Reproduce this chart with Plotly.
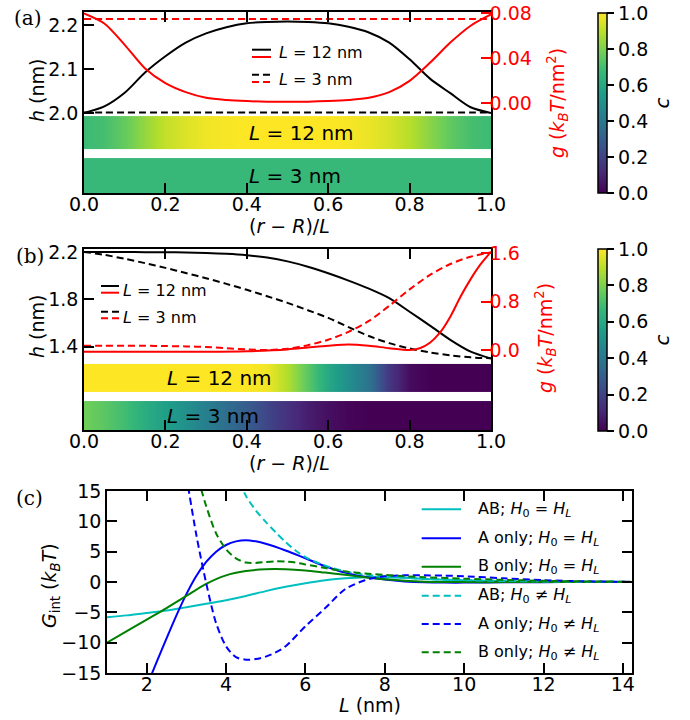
import plotly.graph_objects as go

W, H = 690, 720
def PX(px): return px / W
def PY(py): return 1 - py / H

# ---------------- data: panel (a) ----------------
r = [0.0, 0.05, 0.1, 0.15, 0.2, 0.25, 0.3, 0.35, 0.4, 0.45, 0.5,
     0.55, 0.6, 0.65, 0.7, 0.75, 0.8, 0.85, 0.9, 0.95, 1.0]
a_h_L12 = [2.000, 2.015, 2.046, 2.092, 2.129, 2.160, 2.181, 2.195, 2.204, 2.207, 2.208,
           2.207, 2.204, 2.196, 2.183, 2.160, 2.122, 2.078, 2.045, 2.013, 2.000]
a_h_L3 = [2.001] * 21
a_g_L12 = [0.080, 0.071, 0.052, 0.031, 0.018, 0.010, 0.005, 0.003, 0.002, 0.0015, 0.0015,
           0.0015, 0.002, 0.003, 0.005, 0.010, 0.020, 0.036, 0.054, 0.069, 0.079]
a_g_L3 = [0.075] * 21
a_c_L12 = [0.68, 0.70, 0.76, 0.84, 0.91, 0.95, 0.98, 0.99, 1.0, 1.0, 1.0,
           1.0, 1.0, 0.99, 0.97, 0.94, 0.89, 0.82, 0.75, 0.70, 0.68]
a_c_L3 = [0.67] * 21

# ---------------- data: panel (b) ----------------
b_h_L12 = [2.200, 2.200, 2.199, 2.198, 2.197, 2.195, 2.191, 2.184, 2.172, 2.152, 2.120,
           2.075, 2.020, 1.958, 1.890, 1.810, 1.695, 1.578, 1.458, 1.358, 1.300]
b_h_L3 = [2.200, 2.175, 2.142, 2.105, 2.065, 2.022, 1.978, 1.930, 1.880, 1.826, 1.770,
          1.708, 1.643, 1.565, 1.490, 1.430, 1.385, 1.352, 1.327, 1.310, 1.302]
b_g_L3 = [0.07, 0.07, 0.07, 0.07, 0.065, 0.06, 0.05, 0.03, 0.01, 0.0, 0.02,
          0.08, 0.17, 0.30, 0.48, 0.73, 1.00, 1.24, 1.42, 1.54, 1.61]
r_fine = [0.0, 0.1, 0.2, 0.3, 0.4, 0.5, 0.55, 0.6, 0.65, 0.7, 0.75, 0.8,
          0.825, 0.85, 0.875, 0.9, 0.925, 0.95, 0.975, 1.0]
b_g_L12 = [-0.03, -0.03, -0.03, -0.03, -0.02, 0.01, 0.04, 0.07, 0.09, 0.07, 0.03, 0.0,
           0.03, 0.12, 0.29, 0.55, 0.88, 1.17, 1.42, 1.62]
b_c_L12 = [1.0, 1.0, 1.0, 1.0, 1.0, 1.0, 1.0, 1.0, 1.0, 0.98, 0.88,
           0.74, 0.60, 0.49, 0.38, 0.16, 0.03, 0.0, 0.0, 0.0, 0.0]
b_c_L3 = [0.78, 0.74, 0.69, 0.62, 0.56, 0.50, 0.43, 0.36, 0.29, 0.21, 0.14,
          0.08, 0.04, 0.01, 0.0, 0.0, 0.0, 0.0, 0.0, 0.0, 0.0]

# ---------------- data: panel (c) ----------------
L_ab_eq = [1.0, 1.5, 2.0, 2.5, 3.0, 3.5, 4.0, 4.5, 5.0, 5.5, 6.0, 6.5, 7.0, 7.5, 8.0,
           8.5, 9.0, 10, 11, 12, 13, 14.2]
G_ab_eq = [-5.8, -5.5, -5.1, -4.7, -4.15, -3.6, -3.0, -2.3, -1.5, -0.8, -0.2, 0.3, 0.6,
           0.8, 0.8, 0.7, 0.5, 0.3, 0.15, 0.07, 0.03, 0.01]
L_a_eq = [2.0, 2.25, 2.5, 2.75, 3.0, 3.25, 3.5, 3.75, 4.0, 4.25, 4.5, 4.75, 5.0, 5.5, 6.0,
          6.5, 7.0, 7.5, 8.0, 8.5, 9.0, 9.5, 10, 11, 12, 13, 14.2]
G_a_eq = [-17.2, -13.2, -9.3, -5.5, -2.0, 1.0, 3.3, 5.0, 6.1, 6.7, 6.9, 6.7, 6.3, 5.2, 3.9,
          2.6, 1.55, 0.85, 0.4, 0.1, -0.05, -0.1, -0.1, -0.06, -0.03, -0.01, 0.0]
L_b_eq = [1.0, 1.5, 2.0, 2.5, 3.0, 3.5, 4.0, 4.5, 5.0, 5.5, 6.0, 6.5, 7.0, 7.5, 8.0, 8.5,
          9.0, 9.5, 10, 11, 12, 13, 14.2]
G_b_eq = [-10.0, -8.1, -6.2, -4.3, -2.3, -0.3, 1.1, 1.8, 2.1, 2.1, 1.9, 1.55, 1.2, 0.8,
          0.45, 0.2, 0.05, 0.0, -0.02, -0.02, -0.01, 0.0, 0.0]
L_ab_ne = [4.35, 4.5, 4.75, 5.0, 5.25, 5.5, 5.75, 6.0, 6.5, 7.0, 7.5, 8.0, 8.5, 9.0, 10,
           11, 12, 13, 14.2]
G_ab_ne = [16.5, 14.2, 11.8, 9.9, 8.2, 6.6, 5.2, 4.1, 2.7, 1.75, 1.2, 0.9, 0.7, 0.5, 0.3,
           0.17, 0.1, 0.05, 0.02]
L_a_ne = [3.0, 3.25, 3.5, 3.75, 4.0, 4.25, 4.5, 4.75, 5.0, 5.25, 5.5, 6.0, 6.5, 7.0, 7.5,
          8.0, 8.5, 9.0, 9.5, 10, 11, 12, 13, 14.2]
G_a_ne = [17.5, 7.8, -0.2, -6.8, -10.6, -12.4, -12.8, -12.7, -12.3, -11.6, -10.6, -7.3,
          -4.3, -1.2, 0.3, 0.95, 1.1, 1.1, 1.05, 0.95, 0.6, 0.3, 0.12, 0.03]
L_b_ne = [3.3, 3.5, 3.75, 4.0, 4.25, 4.5, 4.75, 5.0, 5.25, 5.5, 5.75, 6.0, 6.5, 7.0, 7.5,
          8.0, 8.5, 9.0, 10, 11, 12, 13, 14.2]
G_b_ne = [17.0, 12.5, 8.0, 5.4, 3.9, 3.2, 3.15, 3.3, 3.4, 3.35, 3.2, 2.9, 2.3, 1.75, 1.4,
          1.15, 0.95, 0.8, 0.55, 0.35, 0.2, 0.1, 0.05]

legend_c = ["AB; <i>H</i><sub>0</sub> = <i>H</i><sub><i>L</i></sub>",
            "A only; <i>H</i><sub>0</sub> = <i>H</i><sub><i>L</i></sub>",
            "B only; <i>H</i><sub>0</sub> = <i>H</i><sub><i>L</i></sub>",
            "AB; <i>H</i><sub>0</sub> ≠ <i>H</i><sub><i>L</i></sub>",
            "A only; <i>H</i><sub>0</sub> ≠ <i>H</i><sub><i>L</i></sub>",
            "B only; <i>H</i><sub>0</sub> ≠ <i>H</i><sub><i>L</i></sub>"]

CYAN, BLUE, GREEN, RED = "#00bfbf", "#0000ff", "#008000", "#ff0000"
DASH = "7px,4px"
FS = 19
FONT = "DejaVu Sans"

fig = go.Figure()

def line(x, y, xa, ya, color, dash="solid", w=2):
    fig.add_trace(go.Scatter(x=x, y=y, xaxis=xa, yaxis=ya, mode="lines",
                             line=dict(color=color, width=w, dash=dash, shape="spline",
                                       smoothing=0.8),
                             showlegend=False, hoverinfo="skip"))

def cbar(y0px, y1px):
    return dict(thickness=9, thicknessmode="pixels",
                len=(y1px - y0px) / H, lenmode="fraction",
                x=PX(598), xanchor="left", y=PY(y1px), yanchor="bottom",
                xpad=0, ypad=0, outlinewidth=1.5, outlinecolor="black",
                ticks="outside", ticklen=7, tickwidth=1.5, tickcolor="black",
                tickvals=[0, 0.2, 0.4, 0.6, 0.8, 1.0], tickformat=".1f",
                tickfont=dict(size=FS, family=FONT, color="black"),
                title=dict(text="<i>c</i>", side="right",
                           font=dict(size=FS + 1, family=FONT, color="black")))

def bar(c, yb, xa, ya, show, cb=None):
    fig.add_trace(go.Heatmap(x=r, y=[yb[0], (yb[0] + yb[1]) / 2, yb[1]], z=[c, c],
                             xaxis=xa, yaxis=ya, colorscale="Viridis", zmin=0, zmax=1,
                             zsmooth="best", showscale=show, colorbar=cb,
                             hoverinfo="skip"))

# panel (a)
bar(a_c_L12, [0.243, 0.425], "x", "y3", True, cbar(13, 193))
bar(a_c_L3, [0.0, 0.193], "x", "y3", False)
line(r, a_h_L12, "x", "y", "black")
line(r, a_h_L3, "x", "y", "black", DASH)
line(r, a_g_L12, "x", "y2", RED)
line(r, a_g_L3, "x", "y2", RED, DASH)

# panel (b)
bar(b_c_L12, [0.21, 0.365], "x2", "y6", True, cbar(249, 431))
bar(b_c_L3, [0.0, 0.16], "x2", "y6", False)
line(r, b_h_L12, "x2", "y4", "black")
line(r, b_h_L3, "x2", "y4", "black", DASH)
line(r_fine, b_g_L12, "x2", "y5", RED)
line(r, b_g_L3, "x2", "y5", RED, DASH)

# panel (c)
series_c = [(L_ab_eq, G_ab_eq, CYAN, "solid"), (L_a_eq, G_a_eq, BLUE, "solid"),
            (L_b_eq, G_b_eq, GREEN, "solid"), (L_ab_ne, G_ab_ne, CYAN, DASH),
            (L_a_ne, G_a_ne, BLUE, DASH), (L_b_ne, G_b_ne, GREEN, DASH)]
for Lx, Gy, col, d in series_c:
    line(Lx, Gy, "x3", "y7", col, d)

common = dict(showgrid=False, zeroline=False, showline=True, linecolor="black",
              linewidth=1.5, ticks="inside", ticklen=10, tickwidth=1.5,
              tickcolor="black", tickfont=dict(size=FS, family=FONT, color="black"))
xcommon = dict(common, ticklabelstandoff=-7)

xa_dom = [PX(84), PX(491)]
fig.update_layout(
    width=W, height=H, margin=dict(l=0, r=0, t=0, b=0, pad=0, autoexpand=False),
    paper_bgcolor="white", plot_bgcolor="rgba(0,0,0,0)",
    font=dict(family=FONT, size=FS, color="black"), showlegend=False,
    xaxis=dict(xcommon, domain=xa_dom, anchor="y", range=[0, 1], mirror="ticks",
               tickvals=[0, 0.2, 0.4, 0.6, 0.8, 1.0], tickformat=".1f"),
    yaxis=dict(common, domain=[PY(193), PY(12)], anchor="x", range=[1.818, 2.2295],
               tickvals=[2.0, 2.1, 2.2], tickformat=".1f"),
    yaxis2=dict(common, overlaying="y", side="right", anchor="x",
                range=[-0.0797, 0.0812], tickvals=[0, 0.04, 0.08], tickformat=".2f",
                tickcolor=RED, tickfont=dict(size=FS, family=FONT, color=RED),
                ticklabelstandoff=-7),
    yaxis3=dict(overlaying="y", anchor="x", range=[0, 1], visible=False),
    xaxis2=dict(xcommon, domain=xa_dom, anchor="y4", range=[0, 1], mirror="ticks",
                tickvals=[0, 0.2, 0.4, 0.6, 0.8, 1.0], tickformat=".1f"),
    yaxis4=dict(common, domain=[PY(430), PY(249)], anchor="x2", range=[0.697, 2.2245],
                tickvals=[1.4, 1.8, 2.2], tickformat=".1f"),
    yaxis5=dict(common, overlaying="y4", side="right", anchor="x2",
                range=[-1.32, 1.667], tickvals=[0, 0.8, 1.6], tickformat=".1f",
                tickcolor=RED, tickfont=dict(size=FS, family=FONT, color=RED),
                ticklabelstandoff=-7),
    yaxis6=dict(overlaying="y4", anchor="x2", range=[0, 1], visible=False),
    xaxis3=dict(xcommon, domain=[PX(107), PX(632)], anchor="y7", range=[1.0, 14.23],
                mirror="ticks", tickvals=[2, 4, 6, 8, 10, 12, 14]),
    yaxis7=dict(common, domain=[PY(673), PY(491)], anchor="x3", range=[-15, 15],
                mirror="ticks", tickvals=[-15, -10, -5, 0, 5, 10, 15]),
)

ann = []
def text(t, x, y, size=FS, color="black", angle=0, xanchor="center", family=FONT,
         xref="paper", yref="paper"):
    ann.append(dict(text=t, x=x, y=y, xref=xref, yref=yref, showarrow=False,
                    textangle=angle, xanchor=xanchor, yanchor="middle",
                    font=dict(size=size, color=color, family=family)))

# axis titles
xt = "(<i>r</i> − <i>R</i>)/<i>L</i>"
text(xt, PX(289), PY(226))
text(xt, PX(289), PY(463))
text("<i>L</i> (nm)", PX(370), PY(705))
text("<i>h</i> (nm)", PX(37), PY(91), angle=-90)
text("<i>h</i> (nm)", PX(37), PY(327), angle=-90)
gt = "<i>g</i> (<i>k</i><sub><i>B</i></sub><i>T</i>/nm<sup>2</sup>)"
text(gt, PX(558), PY(103), color=RED, angle=-90)
text(gt, PX(545), PY(338), color=RED, angle=-90)
text("<i>G</i><sub>int</sub> (<i>k</i><sub><i>B</i></sub><i>T</i>)", PX(50), PY(586), angle=-90)

# panel labels
for lab, x, y in [("(a)", 28, 18), ("(b)", 30, 256), ("(c)", 29, 498)]:
    text(lab, PX(x), PY(y), size=20, family="DejaVu Serif")

# bar labels
text("<i>L</i> = 12 nm", 0.4, 0.334, size=20, xanchor="left", xref="x", yref="y3")
text("<i>L</i> = 3 nm", 0.4, 0.0965, size=20, xanchor="left", xref="x", yref="y3")
text("<i>L</i> = 12 nm", 0.2, 0.2875, size=20, xanchor="left", xref="x2", yref="y6")
text("<i>L</i> = 3 nm", 0.2, 0.08, size=20, xanchor="left", xref="x2", yref="y6")

shapes = []
def hline(x0, x1, y, color, dash="solid"):
    shapes.append(dict(type="line", xref="paper", yref="paper", x0=PX(x0), x1=PX(x1),
                       y0=PY(y), y1=PY(y), line=dict(color=color, width=2, dash=dash)))

# legend (a)
hline(252, 271, 49.7, "black"); hline(252, 271, 57, RED)
hline(252, 271, 74.7, "black", DASH); hline(252, 271, 82, RED, DASH)
text("<i>L</i> = 12 nm", PX(277), PY(53), size=16, xanchor="left")
text("<i>L</i> = 3 nm", PX(277), PY(79), size=16, xanchor="left")
# legend (b)
hline(101, 119, 286, "black"); hline(101, 119, 292.7, RED)
hline(101, 119, 311.7, "black", DASH); hline(101, 119, 318.3, RED, DASH)
text("<i>L</i> = 12 nm", PX(121), PY(290), size=16, xanchor="left")
text("<i>L</i> = 3 nm", PX(121), PY(317.7), size=16, xanchor="left")
# legend (c)
rows = [509.3, 538.3, 566.7, 595.7, 624, 652.3]
for (Lx, Gy, col, d), lab, yy in zip(series_c, legend_c, rows):
    hline(421.7, 461, yy, col, d)
    text(lab, PX(475.7), PY(yy), size=16, xanchor="left")

fig.update_layout(annotations=ann, shapes=shapes)
fig.write_html("out.html", config={"displayModeBar": False},
               post_script="document.body.style.margin='0px';"
                           "document.body.style.padding='0px';")
